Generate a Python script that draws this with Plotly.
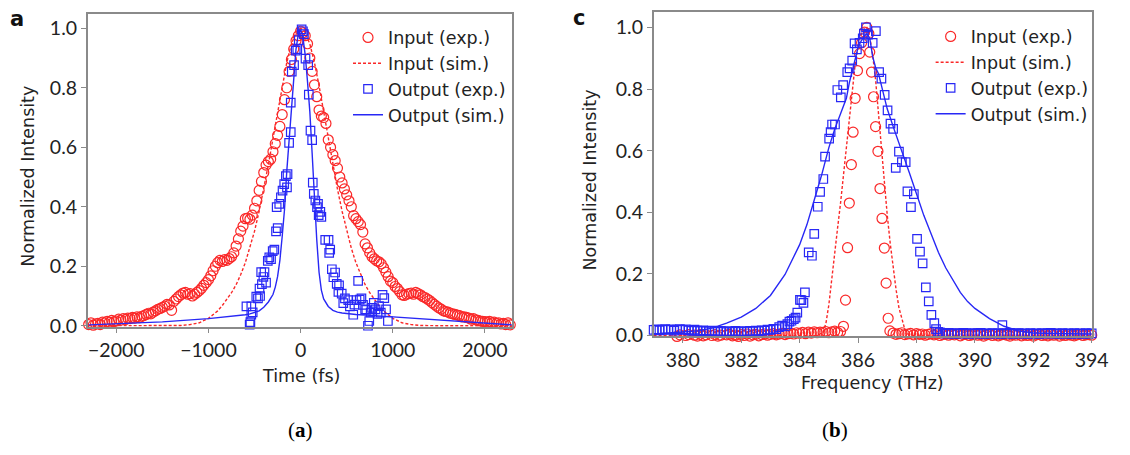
import numpy as np
import plotly.graph_objects as go

RED = "rgb(250,40,40)"
BLUE = "rgb(40,40,245)"

# ---------------- Panel (a): time domain ----------------
t_in_exp = list(range(-2300, 2301, 25))
v_in_exp = [
    0.004, 0.010, 0.002, 0.006, 0.008, 0.004, 0.012, 0.010, 0.015, 0.012, 0.018, 0.014,
    0.016, 0.022, 0.019, 0.024, 0.021, 0.026, 0.024, 0.028, 0.026, 0.030, 0.027, 0.032,
    0.034, 0.038, 0.042, 0.040, 0.046, 0.050, 0.055, 0.058, 0.062, 0.066, 0.072, 0.070,
    0.052, 0.082, 0.090, 0.098, 0.104, 0.110, 0.112, 0.106, 0.108, 0.100, 0.106, 0.112,
    0.118, 0.126, 0.136, 0.145, 0.155, 0.168, 0.185, 0.200, 0.212, 0.220, 0.216, 0.222,
    0.220, 0.226, 0.232, 0.245, 0.268, 0.292, 0.318, 0.335, 0.360, 0.362, 0.358, 0.372,
    0.395, 0.420, 0.455, 0.485, 0.515, 0.540, 0.552, 0.560, 0.585, 0.612, 0.640, 0.670,
    0.710, 0.760, 0.800, 0.855, 0.895, 0.930, 0.958, 0.975, 0.990, 0.985, 0.975, 0.948,
    0.900, 0.855, 0.810, 0.770, 0.725, 0.705, 0.700, 0.680, 0.625, 0.600, 0.575, 0.555,
    0.530, 0.500, 0.480, 0.460, 0.440, 0.420, 0.400, 0.370, 0.360, 0.350, 0.340, 0.315,
    0.275, 0.262, 0.245, 0.232, 0.225, 0.218, 0.215, 0.208, 0.195, 0.180, 0.165, 0.150,
    0.145, 0.132, 0.125, 0.115, 0.104, 0.102, 0.106, 0.108, 0.110, 0.106, 0.112, 0.108,
    0.104, 0.098, 0.095, 0.090, 0.085, 0.078, 0.072, 0.066, 0.060, 0.056, 0.050, 0.048,
    0.046, 0.042, 0.040, 0.038, 0.036, 0.034, 0.030, 0.030, 0.028, 0.026, 0.022, 0.024,
    0.020, 0.018, 0.016, 0.015, 0.014, 0.012, 0.015, 0.010, 0.012, 0.008, 0.010, 0.006,
    0.008, 0.004, 0.010, 0.003, 0.012,
]

t_in_sim = [-2300, -1500, -1400, -1300, -1200, -1100, -1000, -950, -900, -850, -800, -750,
            -700, -650, -600, -550, -500, -450, -400, -350, -300, -250, -200, -150, -100,
            -50, 0, 50, 100, 150, 200, 250, 300, 350, 400, 450, 500, 550, 600, 650, 700,
            750, 800, 850, 900, 950, 1000, 1100, 1200, 1300, 1400, 1500, 2300]
v_in_sim = [0.0, 0.0, 0.0, 0.001, 0.004, 0.010, 0.025, 0.036, 0.050, 0.068, 0.088, 0.111,
            0.138, 0.172, 0.212, 0.261, 0.318, 0.385, 0.459, 0.541, 0.630, 0.720, 0.807,
            0.885, 0.947, 0.986, 1.0, 0.986, 0.947, 0.885, 0.807, 0.720, 0.630, 0.541,
            0.459, 0.385, 0.318, 0.261, 0.212, 0.172, 0.138, 0.111, 0.088, 0.068, 0.050,
            0.036, 0.025, 0.010, 0.004, 0.001, 0.0, 0.0, 0.0]

t_out_exp = [-588, -553, -545, -535, -535, -520, -481, -463, -446, -440, -428, -420, -404,
             -392, -375, -356, -340, -321, -303, -285, -267, -249, -260, -232, -214, -196,
             -178, -160, -148, -142, -125, -107, -107, -96, -71, -53, -36, -20, 11, 25, 36,
             53, 82, 89, 107, 125, 132, 143, 160, 178, 189, 196, 214, 225, 267, 303, 310,
             321, 339, 356, 374, 392, 410, 417, 446, 463, 481, 517, 535, 571, 584, 606, 624,
             641, 660, 677, 700, 713, 731, 745, 760, 775, 794, 813, 835, 851, 870, 889, 908,
             927, 947]
v_out_exp = [0.065, 0.004, 0.012, 0.065, 0.037, 0.045, 0.098, 0.092, 0.125, 0.100, 0.180,
             0.140, 0.164, 0.180, 0.145, 0.218, 0.230, 0.224, 0.251, 0.256, 0.317, 0.328,
             0.399, 0.410, 0.432, 0.454, 0.476, 0.503, 0.465, 0.510, 0.615, 0.651, 0.750,
             0.854, 0.876, 0.925, 0.930, 0.960, 0.996, 0.990, 0.980, 0.898, 0.876, 0.777,
             0.656, 0.624, 0.481, 0.443, 0.421, 0.399, 0.410, 0.372, 0.383, 0.366, 0.289,
             0.289, 0.245, 0.256, 0.190, 0.163, 0.179, 0.141, 0.114, 0.136, 0.108, 0.076,
             0.092, 0.086, 0.065, 0.037, 0.071, 0.086, 0.151, 0.088, 0.092, 0.070, 0.055,
             0.053, 0.0, 0.016, 0.044, 0.060, 0.077, 0.055, 0.040, 0.066, 0.044, 0.104,
             0.093, 0.055, 0.016]

t_out_sim = [-2300, -2000, -1500, -1000, -800, -600, -550, -500, -450, -400, -350, -300,
             -275, -250, -225, -200, -175, -150, -125, -100, -75, -50, -25, 0, 25, 50, 75,
             100, 125, 150, 175, 200, 225, 250, 300, 350, 400, 450, 500, 600, 800, 1000,
             1500, 2000, 2300]
v_out_sim = [0.003, 0.007, 0.013, 0.024, 0.030, 0.037, 0.040, 0.044, 0.050, 0.062, 0.080,
             0.105, 0.130, 0.165, 0.220, 0.300, 0.390, 0.520, 0.630, 0.740, 0.840, 0.930,
             0.980, 0.995, 0.970, 0.910, 0.820, 0.720, 0.580, 0.430, 0.290, 0.180, 0.120,
             0.090, 0.065, 0.052, 0.046, 0.043, 0.041, 0.038, 0.034, 0.030, 0.018, 0.008,
             0.003]

# ---------------- Panel (b): frequency domain ----------------
f_in_base_left = np.round(np.arange(379.8, 385.45, 0.1), 2).tolist()
v_in_base_left = [
    -0.003, 0.002, -0.005, 0.000, 0.003, -0.004, 0.001, -0.002, 0.004, -0.001,
    0.002, -0.004, 0.000, 0.003, -0.002, 0.001, -0.005, 0.002, 0.004, -0.001,
    0.001, -0.003, 0.003, 0.000, 0.005, -0.002, 0.002, 0.004, -0.001, 0.003,
    0.005, 0.001, 0.004, 0.006, 0.002, 0.005, 0.007, 0.003, 0.006, 0.008,
    0.005, 0.009, 0.007, 0.010, 0.006, 0.011, 0.008, 0.012, 0.009, 0.011,
    0.010, 0.013, 0.009, 0.012, 0.014, 0.010, 0.013,
]
f_in_peak = [385.50, 385.57, 385.64, 385.70, 385.77, 385.83, 385.90, 385.98, 386.05, 386.12,
             386.22, 386.30, 386.37, 386.40, 386.46, 386.53, 386.60, 386.68, 386.75, 386.82,
             386.90, 386.96, 387.03, 387.09]
v_in_peak = [0.030, 0.115, 0.285, 0.430, 0.555, 0.660, 0.770, 0.860, 0.915, 0.950, 0.985,
             1.000, 0.980, 0.920, 0.855, 0.775, 0.678, 0.598, 0.477, 0.380, 0.284, 0.170,
             0.056, 0.015]
f_in_base_right = np.round(np.arange(387.2, 394.05, 0.1), 2).tolist()
v_in_base_right = [
    0.008, 0.004, 0.006, 0.009, 0.003, 0.005, 0.007, 0.002, 0.006, 0.004,
    0.005, 0.001, 0.004, 0.006, 0.002, 0.005, 0.000, 0.003, 0.005, 0.001,
    0.004, 0.002, 0.005, -0.001, 0.003, 0.004, 0.000, 0.002, 0.005, 0.001,
    0.003, -0.002, 0.002, 0.004, 0.000, 0.003, -0.001, 0.002, 0.004, 0.001,
    -0.002, 0.003, 0.001, 0.004, -0.001, 0.002, 0.000, 0.003, -0.002, 0.002,
    0.004, 0.000, 0.002, -0.001, 0.003, 0.001, 0.004, -0.002, 0.002, 0.000,
    0.003, 0.001, -0.001, 0.002, 0.004, 0.000, 0.002, 0.003, 0.001,
]

f_in_sim = [379.0, 384.6, 384.8, 384.9, 385.0, 385.1, 385.2, 385.3, 385.4, 385.5, 385.6,
            385.7, 385.8, 385.9, 386.0, 386.1, 386.2, 386.3, 386.4, 386.5, 386.6, 386.7,
            386.8, 386.9, 387.0, 387.1, 387.2, 387.3, 387.4, 387.5, 387.6, 387.7, 387.8,
            394.0]
v_in_sim_f = [0.0, 0.0, 0.01, 0.04, 0.10, 0.19, 0.27, 0.35, 0.43, 0.52, 0.62, 0.72, 0.81,
              0.88, 0.94, 0.975, 0.995, 1.0, 0.97, 0.91, 0.83, 0.72, 0.60, 0.48, 0.39, 0.30,
              0.22, 0.15, 0.09, 0.05, 0.02, 0.005, 0.0, 0.0]

f_out_base_left = np.round(np.arange(379.0, 382.85, 0.1), 2).tolist()
v_out_base_left = [
    0.018, 0.020, 0.017, 0.019, 0.021, 0.018, 0.020, 0.016, 0.019, 0.021,
    0.018, 0.020, 0.017, 0.015, 0.019, 0.016, 0.014, 0.017, 0.015, 0.013,
    0.016, 0.014, 0.012, 0.015, 0.013, 0.011, 0.014, 0.012, 0.015, 0.013,
    0.012, 0.014, 0.013, 0.015, 0.013, 0.016, 0.014, 0.017, 0.016,
]
f_out_peak = [382.9, 383.0, 383.1, 383.2, 383.3, 383.4, 383.5, 383.58, 383.65, 383.72, 383.80,
              383.86, 383.92, 384.01, 384.06, 384.13, 384.18, 384.31, 384.42, 384.50, 384.62,
              384.70, 384.81, 384.87, 385.01, 385.06, 385.11, 385.21, 385.29, 385.41, 385.49,
              385.63, 385.71, 385.80, 385.88, 385.96, 386.05, 386.16, 386.20, 386.27, 386.34,
              386.50, 386.61, 386.72, 386.80, 386.91, 387.01, 387.11, 387.20, 387.29, 387.40,
              387.50, 387.63, 387.69, 387.81, 387.91, 388.02, 388.12, 388.21, 388.32, 388.42,
              388.51, 388.61, 388.67, 388.74, 390.94]
v_out_peak = [0.019, 0.018, 0.022, 0.021, 0.027, 0.032, 0.030, 0.037, 0.045, 0.048, 0.053,
              0.058, 0.074, 0.116, 0.115, 0.106, 0.140, 0.270, 0.259, 0.330, 0.418, 0.466,
              0.508, 0.581, 0.639, 0.660, 0.685, 0.685, 0.797, 0.773, 0.813, 0.855, 0.867,
              0.892, 0.948, 0.929, 0.950, 0.965, 0.980, 1.000, 0.977, 0.950, 0.988, 0.855,
              0.834, 0.781, 0.731, 0.688, 0.671, 0.544, 0.597, 0.563, 0.563, 0.468, 0.417,
              0.459, 0.314, 0.272, 0.234, 0.156, 0.111, 0.067, 0.040, 0.021, 0.012, 0.034]
f_out_base_right = np.round(np.arange(388.8, 394.05, 0.1), 2).tolist()
v_out_base_right = [
    0.010, 0.008, 0.006, 0.009, 0.007, 0.005, 0.008, 0.006, 0.009, 0.007,
    0.005, 0.008, 0.006, 0.007, 0.009, 0.005, 0.007, 0.006, 0.008, 0.006,
    0.007, 0.005, 0.008, 0.006, 0.009, 0.005, 0.007, 0.008, 0.006, 0.007,
    0.005, 0.008, 0.006, 0.007, 0.005, 0.008, 0.006, 0.007, 0.009, 0.006,
    0.007, 0.005, 0.008, 0.006, 0.007, 0.005, 0.008, 0.006, 0.007, 0.005,
    0.008, 0.006, 0.007,
]

f_out_sim = [379.0, 379.5, 380.0, 380.5, 381.0, 381.5, 382.0, 382.5, 383.0, 383.5, 384.0,
             384.25, 384.5, 384.75, 385.0, 385.2, 385.4, 385.5, 385.6, 385.7, 385.8, 385.9,
             386.0, 386.1, 386.2, 386.3, 386.4, 386.5, 386.6, 386.7, 386.8, 386.9, 387.0,
             387.25, 387.5, 387.75, 388.0, 388.25, 388.5, 388.75, 389.0, 389.25, 389.5,
             389.75, 390.0, 390.5, 391.0, 391.5, 392.0, 393.0, 394.0]
v_out_sim_f = [0.005, 0.008, 0.010, 0.015, 0.024, 0.040, 0.060, 0.088, 0.130, 0.198, 0.295,
               0.360, 0.440, 0.520, 0.610, 0.670, 0.720, 0.745, 0.770, 0.820, 0.860, 0.905,
               0.935, 0.955, 0.970, 0.980, 0.965, 0.905, 0.870, 0.850, 0.810, 0.770, 0.735,
               0.665, 0.600, 0.530, 0.460, 0.390, 0.330, 0.270, 0.220, 0.180, 0.140, 0.110,
               0.088, 0.055, 0.030, 0.015, 0.008, 0.006, 0.005]

f_in_exp = f_in_base_left + f_in_peak + f_in_base_right
v_in_exp_f = v_in_base_left + v_in_peak + v_in_base_right
f_out_exp = f_out_base_left + f_out_peak + f_out_base_right
v_out_exp_f = v_out_base_left + v_out_peak + v_out_base_right

names = ["Input (exp.)", "Input (sim.)", "Output (exp.)", "Output (sim.)"]

TXT = "DejaVu Sans"
TICK = "Lato"

fig = go.Figure()

def add_panel(xa, ya, leg, xe_in, ye_in, xs_in, ys_in, xe_out, ye_out, xs_out, ys_out):
    fig.add_trace(go.Scatter(x=xe_in, y=ye_in, mode="markers", name=names[0], legend=leg,
                             xaxis=xa, yaxis=ya, cliponaxis=False,
                             marker=dict(symbol="circle-open", size=10, color=RED,
                                         line=dict(width=1.2, color=RED))))
    fig.add_trace(go.Scatter(x=xs_in, y=ys_in, mode="lines", name=names[1], legend=leg,
                             xaxis=xa, yaxis=ya,
                             line=dict(color=RED, width=1.4, dash="3px,2px")))
    fig.add_trace(go.Scatter(x=xe_out, y=ye_out, mode="markers", name=names[2], legend=leg,
                             xaxis=xa, yaxis=ya, cliponaxis=False,
                             marker=dict(symbol="square-open", size=8.5, color=BLUE,
                                         line=dict(width=1.2, color=BLUE))))
    fig.add_trace(go.Scatter(x=xs_out, y=ys_out, mode="lines", name=names[3], legend=leg,
                             xaxis=xa, yaxis=ya,
                             line=dict(color=BLUE, width=1.4)))

add_panel("x", "y", "legend", t_in_exp, v_in_exp, t_in_sim, v_in_sim,
          t_out_exp, v_out_exp, t_out_sim, v_out_sim)
add_panel("x2", "y2", "legend2", f_in_exp, v_in_exp_f, f_in_sim, v_in_sim_f,
          f_out_exp, v_out_exp_f, f_out_sim, v_out_sim_f)

W, H = 1130, 455
axis_common = dict(showline=True, mirror=True, linecolor="#8a8a8a", linewidth=1.5,
                   ticks="outside", ticklen=5, tickcolor="#8a8a8a", tickwidth=1.2,
                   showgrid=False, zeroline=False,
                   tickfont=dict(family=TICK, size=19.5, color="#222"))

fig.update_layout(
    width=W, height=H, margin=dict(l=0, r=0, t=0, b=0),
    paper_bgcolor="white", plot_bgcolor="white",
    xaxis=dict(domain=[89 / W, 519 / W], range=[-2310, 2290], anchor="y",
               tickvals=[-2000, -1000, 0, 1000, 2000], **axis_common),
    yaxis=dict(domain=[1 - 334 / H, 1 - 14 / H], range=[-0.003, 1.049], anchor="x",
               tickvals=[0, 0.2, 0.4, 0.6, 0.8, 1.0], tickformat=".1f", **axis_common),
    xaxis2=dict(domain=[663 / W, 1108 / W], range=[379.0, 394.02], anchor="y2",
                tickvals=list(range(380, 395, 2)), **axis_common),
    yaxis2=dict(domain=[1 - 344 / H, 1 - 12 / H], range=[-0.003, 1.051], anchor="x2",
                tickvals=[0, 0.2, 0.4, 0.6, 0.8, 1.0], tickformat=".1f", **axis_common),
    legend=dict(x=353 / W, y=1 - 20 / H, xanchor="left", yanchor="top",
                bgcolor="rgba(0,0,0,0)", font=dict(family=TXT, size=17.5, color="#222")),
    legend2=dict(x=944 / W, y=1 - 19 / H, xanchor="left", yanchor="top",
                 bgcolor="rgba(0,0,0,0)", font=dict(family=TXT, size=17.5, color="#222")),
    showlegend=True,
)

ann = [
    dict(text="Normalized Intensity", x=28 / W, y=1 - 180 / H, textangle=-90,
         font=dict(family=TXT, size=17.5, color="#222")),
    dict(text="Normalized Intensity", x=598 / W, y=1 - 184 / H, textangle=-90,
         font=dict(family=TXT, size=17.5, color="#222")),
    dict(text="Time (fs)", x=305 / W, y=1 - 384 / H,
         font=dict(family=TXT, size=17.5, color="#222")),
    dict(text="Frequency (THz)", x=885 / W, y=1 - 392 / H,
         font=dict(family=TXT, size=17.5, color="#222")),
    dict(text="<b>a</b>", x=17 / W, y=1 - 19 / H,
         font=dict(family=TXT, size=21, color="#111")),
    dict(text="<b>c</b>", x=587 / W, y=1 - 18 / H,
         font=dict(family=TXT, size=21, color="#111")),
    dict(text="(<b>a</b>)", x=305 / W, y=1 - 440 / H,
         font=dict(family="Liberation Serif", size=21, color="#000")),
    dict(text="(<b>b</b>)", x=847 / W, y=1 - 440 / H,
         font=dict(family="Liberation Serif", size=21, color="#000")),
]
for a in ann:
    a.update(xref="paper", yref="paper", showarrow=False, xanchor="center", yanchor="middle")
    fig.add_annotation(**a)

fig.write_html("out.html")
